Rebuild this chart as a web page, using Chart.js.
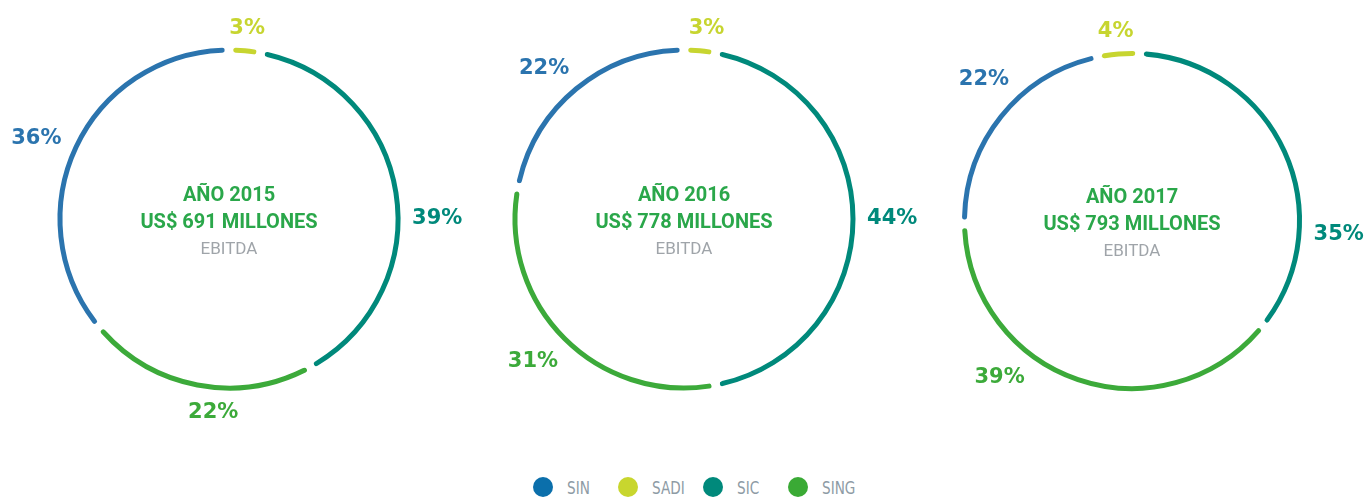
<!DOCTYPE html>
<html><head><meta charset="utf-8">
<script src="https://cdn.jsdelivr.net/npm/chart.js@4"></script>
<style>
html,body{margin:0;padding:0;background:#fff;width:1369px;height:497px;overflow:hidden;position:relative;}
.wrap{position:absolute;width:480px;height:460px;}
#legend{position:absolute;left:533px;top:476px;display:flex;}
.item{width:85px;display:flex;align-items:center;height:21px;}
.dot{width:20px;height:20px;border-radius:50%;margin-right:14px;flex:none;}
.lbl{font-family:"Liberation Sans Narrow","DejaVu Sans Condensed",sans-serif;font-size:18px;color:#8e9ba5;line-height:21px;padding-top:2px;display:inline-block;transform:scaleX(0.84);transform-origin:left center;}
</style></head><body>
<div class="wrap" id="w0"><canvas id="c0"></canvas></div>
<div class="wrap" id="w1"><canvas id="c1"></canvas></div>
<div class="wrap" id="w2"><canvas id="c2"></canvas></div>
<div id="legend"></div>
<script>
// ---- data ----
const categories = ['SIN', 'SADI', 'SIC', 'SING'];
const years = ['2015', '2016', '2017'];
const ebitdaMillions = [691, 778, 793];
const share2015 = [36, 3, 39, 22];
const share2016 = [22, 3, 44, 31];
const share2017 = [22, 4, 35, 39];
const shares = [share2015, share2016, share2017];

// ---- style / layout ----
const colors = ['#2b74ae', '#c7d530', '#00897b', '#3caa3a'];
const legendColors = ['#0b6fab', '#c8d62e', '#00897b', '#3aaa35'];
const centers = [[229, 218.5], [684, 218.5], [1132, 221]];
const ringRadius = [169, 169, 167.5];
const rotations = [-129.6, -79.2, -91];
const labelShift = [[-2.2, 0, 8.6, -6.1], [-3.2, 1.3, -0.4, 1.9], [5.2, -0.3, 27.9, 21.7]];
const lineW = 5, gapW = 8.5;
const W = 480, H = 460;

const ringPlugin = {
  id: 'ringText',
  afterDatasetsDraw(chart, args, opts) {
    const ctx = chart.ctx;
    const meta = chart.getDatasetMeta(0);
    const ds = chart.data.datasets[0];
    ctx.save();
    ctx.font = 'bold 21px "DejaVu Sans"';
    ctx.textAlign = 'center';
    ctx.textBaseline = 'middle';
    let cx0 = 0, cy0 = 0;
    meta.data.forEach((arc, i) => {
      const p = arc.getProps(['x', 'y', 'startAngle', 'endAngle', 'outerRadius', 'innerRadius'], true);
      cx0 = p.x; cy0 = p.y;
      const a = (p.startAngle + p.endAngle) / 2 + (opts.shift[i] || 0) * Math.PI / 180;
      const r = (p.outerRadius + p.innerRadius) / 2;
      const txt = ds.data[i] + '%';
      const w = ctx.measureText(txt).width, h = 16;
      const ux = Math.cos(a), uy = Math.sin(a);
      const d = r + 14 + w / 2 * Math.abs(ux) + h / 2 * Math.abs(uy);
      ctx.fillStyle = ds.backgroundColor[i];
      ctx.fillText(txt, p.x + ux * d, p.y + uy * d + 1);
    });
    ctx.fillStyle = '#2aa74a';
    ctx.font = 'bold 20px Roboto';
    ctx.fillText('AÑO ' + opts.year, cx0, cy0 - 23);
    ctx.fillText('US$ ' + opts.value + ' MILLONES', cx0, cy0 + 3.5);
    ctx.fillStyle = '#9fa4a9';
    ctx.font = '17px Roboto';
    ctx.fillText('EBITDA', cx0, cy0 + 31);
    ctx.restore();
  }
};

shares.forEach((data, k) => {
  const wrap = document.getElementById('w' + k);
  wrap.style.left = (centers[k][0] - W / 2) + 'px';
  wrap.style.top = (centers[k][1] - H / 2) + 'px';
  const T = lineW + gapW;
  const outer = ringRadius[k] + T / 2, inner = ringRadius[k] - T / 2;
  new Chart(document.getElementById('c' + k), {
    type: 'doughnut',
    data: {
      labels: categories,
      datasets: [{
        data: data,
        backgroundColor: colors,
        borderColor: '#ffffff',
        borderWidth: gapW,
        borderRadius: 20,
        hoverOffset: 0
      }]
    },
    options: {
      responsive: true,
      maintainAspectRatio: false,
      animation: false,
      events: [],
      radius: outer,
      cutout: (inner / outer * 100) + '%',
      rotation: rotations[k],
      layout: { padding: 0 },
      plugins: {
        legend: { display: false },
        tooltip: { enabled: false },
        ringText: { shift: labelShift[k], year: years[k], value: ebitdaMillions[k] }
      }
    },
    plugins: [ringPlugin]
  });
});

const leg = document.getElementById('legend');
categories.forEach((c, i) => {
  const it = document.createElement('div'); it.className = 'item';
  const d = document.createElement('div'); d.className = 'dot'; d.style.background = legendColors[i];
  const t = document.createElement('span'); t.className = 'lbl'; t.textContent = c;
  it.appendChild(d); it.appendChild(t); leg.appendChild(it);
});
</script>
</body></html>
